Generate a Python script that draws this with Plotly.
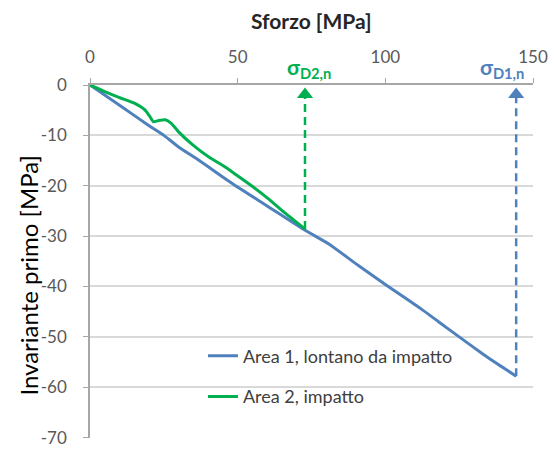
import plotly.graph_objects as go

# Data
area1_x = [0, 10, 20, 25, 30, 37, 48.5, 60, 73, 81, 91, 100, 105, 112, 118, 125, 133, 138, 144.3]
area1_y = [0, -4, -8.1, -10, -12.3, -15, -19.7, -24, -28.9, -31.6, -35.9, -39.6, -41.6, -44.4, -47, -50, -53.4, -55.4, -57.8]

area2_x = [0, 5, 10, 15, 18.5, 20.2, 21.5, 23, 25.5, 27.5, 30, 35, 40, 45, 48.5, 54, 60, 66, 72.8]
area2_y = [0, -1.3, -2.5, -3.6, -4.9, -6.2, -7.3, -7.1, -6.9, -7.6, -9.3, -12, -14.2, -16, -17.4, -19.7, -22.4, -25.4, -28.6]

names = ["Area 1, lontano da impatto", "Area 2, impatto"]
colors = ["#4f81bd", "#00b050"]

sigma_x = [144.3, 72.8]          # sigma_D1,n ; sigma_D2,n
sigma_low = [-57.8, -28.6]       # start of dashed arrows
sigma_top = [-2.4, -2.4]         # end of dashed arrows (under the triangle)
sigma_tip = [-1.9, -1.9]         # triangle marker centre
sigma_labels = ["σ<sub>D1,n</sub>", "σ<sub>D2,n</sub>"]

x_ticks = [0, 50, 100, 150]
y_ticks = [0, -10, -20, -30, -40, -50, -60, -70]
y_ticktext = ["0", "-10", "-20", "-30", "-40", "-50", "-60", "-70"]

FONT = "Lato"
GRAY = "#595959"

fig = go.Figure()

fig.add_trace(go.Scatter(x=area1_x, y=area1_y, mode="lines", name=names[0],
                         line=dict(color=colors[0], width=3, shape="spline", smoothing=0.5),
                         legend="legend"))
fig.add_trace(go.Scatter(x=area2_x, y=area2_y, mode="lines", name=names[1],
                         line=dict(color=colors[1], width=3, shape="spline", smoothing=0.6),
                         legend="legend2"))

for i in range(2):
    fig.add_trace(go.Scatter(x=[sigma_x[i], sigma_x[i]], y=[sigma_low[i], sigma_top[i]],
                             mode="lines", showlegend=False, hoverinfo="skip",
                             line=dict(color=colors[i], width=2.5, dash="8px,5px")))
    fig.add_trace(go.Scatter(x=[sigma_x[i]], y=[sigma_tip[i]], mode="markers",
                             showlegend=False, hoverinfo="skip",
                             marker=dict(symbol="triangle-up", size=14, color=colors[i])))

fig.add_annotation(x=sigma_x[0], y=1, xref="x", yref="paper", text="<b>" + sigma_labels[0] + "</b>",
                   showarrow=False, xshift=-14, yshift=17, yanchor="middle",
                   font=dict(family=FONT, size=21, color=colors[0]))
fig.add_annotation(x=sigma_x[1], y=1, xref="x", yref="paper", text="<b>" + sigma_labels[1] + "</b>",
                   showarrow=False, xshift=4, yshift=17, yanchor="middle",
                   font=dict(family=FONT, size=21, color=colors[1]))

# Axis titles
fig.add_annotation(x=0.5, y=1, xref="paper", yref="paper", text="<b>Sforzo [MPa]</b>",
                   showarrow=False, yshift=65, yanchor="middle",
                   font=dict(family=FONT, size=21, color="#262626"))
fig.add_annotation(x=0, y=0.46, xref="paper", yref="paper", text="Invariante primo [MPa]",
                   showarrow=False, xshift=-61, textangle=-90, xanchor="center", yanchor="middle",
                   font=dict(family=FONT, size=24, color="#000000"))

fig.update_layout(
    width=555, height=450,
    margin=dict(l=90, r=22, t=85, b=12),
    paper_bgcolor="white", plot_bgcolor="white",
    font=dict(family=FONT, size=15, color=GRAY),
    legend=dict(x=0.255, y=0.232, xanchor="left", yanchor="middle", bgcolor="rgba(0,0,0,0)",
                font=dict(family=FONT, size=18, color="#404040"), itemwidth=30),
    legend2=dict(x=0.255, y=0.117, xanchor="left", yanchor="middle", bgcolor="rgba(0,0,0,0)",
                 font=dict(family=FONT, size=18, color="#404040"), itemwidth=30),
)

fig.update_xaxes(range=[0, 150], side="top", tickvals=x_ticks, ticks="outside", ticklen=5,
                 tickcolor="#a6a6a6", showline=True, linecolor="#a6a6a6", linewidth=1.5,
                 showgrid=False, zeroline=False, automargin=False, ticklabelstandoff=8,
                 tickfont=dict(family=FONT, size=17, color=GRAY))
fig.update_yaxes(range=[-70.08, 0], tickvals=y_ticks, ticktext=y_ticktext, ticks="outside", ticklen=5,
                 tickcolor="#a6a6a6", showline=True, linecolor="#a6a6a6", linewidth=1.5,
                 showgrid=True, gridcolor="#d9d9d9", gridwidth=1.5, zeroline=False,
                 automargin=False, ticklabelstandoff=13,
                 tickfont=dict(family=FONT, size=17, color=GRAY))

fig.write_html("out.html", config={"displayModeBar": False},
               post_script="document.body.style.margin='0';document.body.style.overflow='hidden';")
